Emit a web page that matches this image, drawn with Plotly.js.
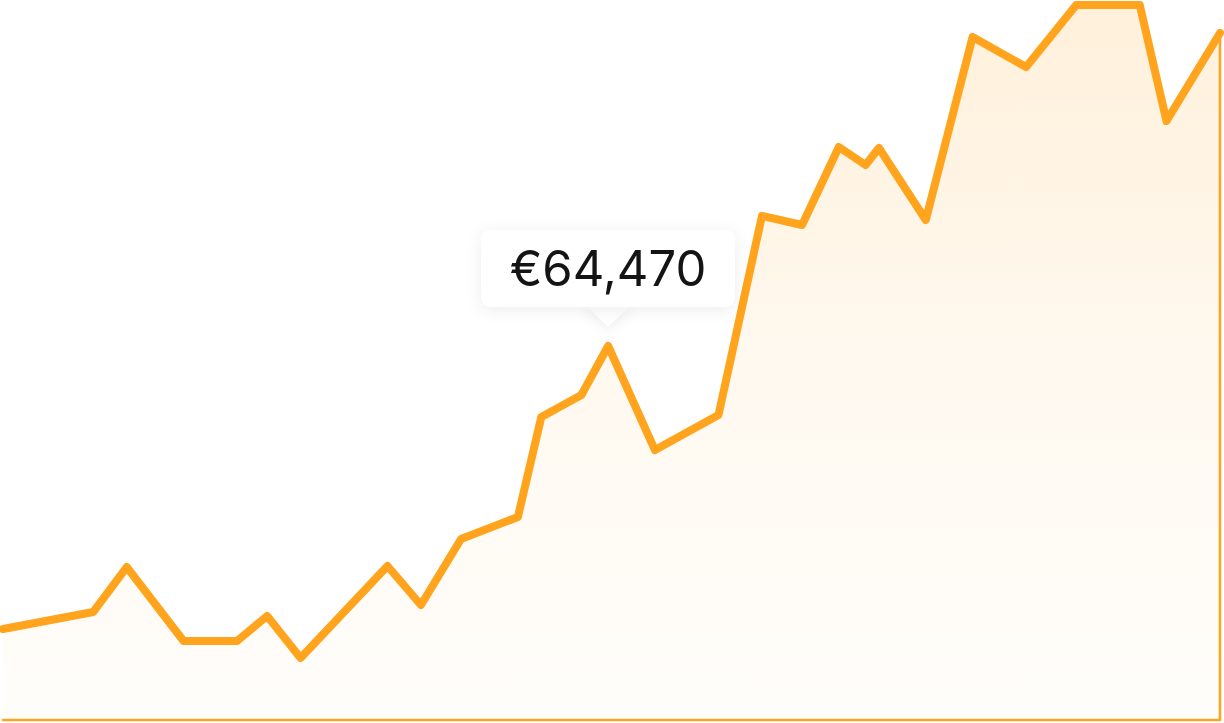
<!DOCTYPE html>
<html>
<head>
<meta charset="utf-8">
<script src="https://cdn.plot.ly/plotly-3.0.1.min.js"></script>
<style>
  html, body { margin: 0; padding: 0; background: #ffffff; }
  #chart { width: 1224px; height: 723px; }
  /* round joins on the price line */
  .scatterlayer .js-line { stroke-linejoin: round; stroke-linecap: round; }
  /* tooltip look: rounded card with a soft shadow */
  .annotation rect.bg { rx: 9px; ry: 9px; filter: drop-shadow(0px 3px 8px rgba(0,0,0,0.07)); }
  .shapelayer path { stroke-linejoin: round; filter: drop-shadow(0px 3px 6px rgba(0,0,0,0.07)); }
</style>
</head>
<body>
<div id="chart"></div>
<script>
// days since start of period
var days = [0, 27, 37, 54, 70, 79, 89, 115, 125, 137, 154, 161, 173, 181,
            195, 214, 227, 239, 250, 258, 262, 276, 290, 306, 321, 340, 348, 364];
// portfolio value in euro
var values = [15690, 18620, 26370, 13620, 13620, 17930, 10690, 26550, 19820, 31200,
              34990, 52230, 56020, 64470, 46540, 52580, 86880, 85330, 98770, 95670,
              98600, 86190, 117740, 112560, 123250, 123250, 103260, 118420];
var highlightIndex = 13;

var orange = '#ffa41c';

// closed area under the line, outlined thinly
var areaX = days.concat([days[days.length - 1], days[0]]);
var areaY = values.concat([0, 0]);

var area = {
  x: areaX, y: areaY,
  type: 'scatter', mode: 'lines',
  fill: 'toself',
  fillgradient: {
    type: 'vertical',
    colorscale: [[0, 'rgba(255,164,28,0.02)'], [0.5, 'rgba(255,164,28,0.07)'], [1, 'rgba(255,164,28,0.16)']]
  },
  line: {color: orange, width: 2.5},
  hoverinfo: 'skip'
};

var line = {
  x: days, y: values,
  type: 'scatter', mode: 'lines',
  line: {color: orange, width: 8},
  hoverinfo: 'skip'
};

var hx = days[highlightIndex];
var hy = values[highlightIndex];
var label = '€' + hy.toLocaleString('en-US');

var layout = {
  width: 1224, height: 723,
  margin: {l: 0, r: 0, t: 0, b: 0},
  paper_bgcolor: '#ffffff', plot_bgcolor: '#ffffff',
  showlegend: false,
  xaxis: {range: [-0.9, 365.2], visible: false, fixedrange: true},
  yaxis: {range: [-517, 124114], visible: false, fixedrange: true},
  shapes: [{
    type: 'path', layer: 'above',
    xref: 'x', yref: 'y',
    xsizemode: 'pixel', ysizemode: 'pixel',
    xanchor: hx, yanchor: hy,
    path: 'M -23 41 L -2 21 Q 0 19 2 21 L 23 41 Z',
    fillcolor: '#ffffff', line: {width: 0}
  }],
  annotations: [{
    x: hx, y: hy, xref: 'x', yref: 'y',
    text: label,
    showarrow: true, arrowcolor: 'rgba(0,0,0,0)', arrowwidth: 0.1,
    ax: 0, ay: -78,
    width: 254, height: 77,
    bgcolor: '#ffffff', borderwidth: 0, borderpad: 0,
    font: {family: 'Inter, "Noto Sans", sans-serif', size: 49, color: '#141414'}
  }]
};

Plotly.newPlot('chart', [area, line], layout, {displayModeBar: false, staticPlot: true});
</script>
</body>
</html>
